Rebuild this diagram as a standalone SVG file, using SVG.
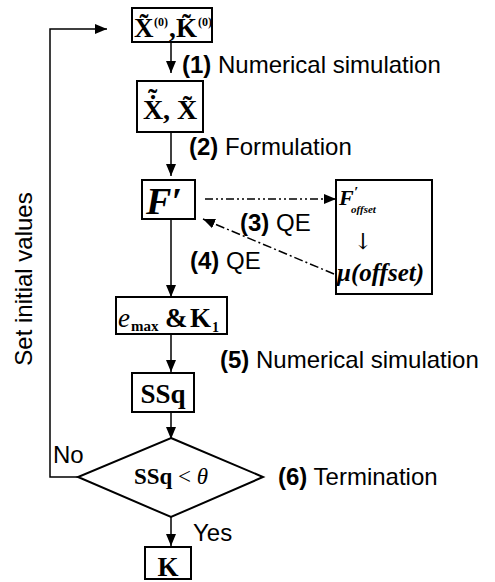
<svg xmlns="http://www.w3.org/2000/svg" width="495" height="582" viewBox="0 0 495 582">
<style>
.box{fill:#fff;stroke:#000;stroke-width:2}
.ln{fill:none;stroke:#000;stroke-width:1.5}
.dd{fill:none;stroke:#000;stroke-width:1.5;stroke-dasharray:8 3 2 3 2 3}
.dt{fill:none;stroke:#000;stroke-width:1.5;stroke-dasharray:9 3 2 3}
.lbl{font-family:"Liberation Sans",Arial,sans-serif;font-size:24px;fill:#000}
.b{font-weight:bold}
.m{font-family:"Liberation Serif","Times New Roman",serif;font-weight:bold;fill:#000}
.mi{font-family:"Liberation Serif","Times New Roman",serif;font-weight:bold;font-style:italic;fill:#000}
</style>
<defs>
<marker id="ah" viewBox="0 0 12 10" refX="12" refY="5" markerWidth="12" markerHeight="10" markerUnits="userSpaceOnUse" orient="auto">
<path d="M0,0 L12,5 L0,10 z" fill="#000"/>
</marker>
</defs>
<g id="connectors">
<line class="ln" x1="171" y1="42" x2="171" y2="73" marker-end="url(#ah)"/>
<line class="ln" x1="171" y1="132" x2="171" y2="176" marker-end="url(#ah)"/>
<line class="ln" x1="171" y1="219" x2="171" y2="297" marker-end="url(#ah)"/>
<line class="ln" x1="171" y1="334" x2="171" y2="372" marker-end="url(#ah)"/>
<line class="ln" x1="171" y1="412" x2="171" y2="439" marker-end="url(#ah)"/>
<line class="ln" x1="171" y1="517" x2="171" y2="546" marker-end="url(#ah)"/>
<polyline class="ln" points="78,477 50,477 50,29 107,29" marker-end="url(#ah)"/>
<line class="dd" x1="205" y1="199" x2="336" y2="199" marker-end="url(#ah)"/>
<line class="dt" x1="334" y1="274" x2="203" y2="219" marker-end="url(#ah)"/>
</g>
<g id="n1">
<rect class="box" x="132" y="8" width="80" height="34"/>
<text class="m" x="134" y="37" font-size="27">X&#x303;</text>
<text class="m" x="154" y="26" font-size="12">(0)</text>
<text class="m" x="169" y="37" font-size="27">,</text>
<text class="m" x="176" y="37" font-size="27">K&#x303;</text>
<text class="m" x="198" y="26" font-size="12">(0)</text>
</g>
<g id="n2">
<rect class="box" x="137" y="81" width="66" height="51"/>
<text class="m" x="143" y="119" font-size="28">X&#x307;<tspan x="148" y="108">˜</tspan><tspan x="163" y="119">,</tspan></text>
<text class="m" x="177" y="119" font-size="28">X&#x303;</text>
</g>
<g id="n3">
<rect class="box" x="142" y="180" width="53" height="39"/>
<text class="mi" x="146" y="214" font-size="38">F′</text>
</g>
<g id="n4">
<rect class="box" x="336" y="180" width="96" height="114"/>
<text class="mi" x="339" y="205" font-size="22">F<tspan x="354" y="197" font-size="15">′</tspan><tspan x="351" y="213" font-size="11">offset</tspan></text>
<text x="363" y="249" font-size="22" text-anchor="middle" font-family="DejaVu Serif, serif" fill="#000">↓</text>
<text class="mi" x="337" y="281" font-size="25">μ(offset)</text>
</g>
<g id="n5">
<rect class="box" x="116" y="297" width="111" height="37"/>
<text x="118" y="327" font-size="27" font-family="Liberation Serif, serif" font-style="italic">e</text>
<text class="m" x="131" y="331" font-size="15">max</text>
<text class="m" x="165" y="327" font-size="27">&amp;</text>
<text class="m" x="190" y="327" font-size="27">K</text>
<text class="m" x="212" y="332" font-size="14">1</text>
</g>
<g id="n6">
<rect class="box" x="132" y="373" width="62" height="39"/>
<text class="m" x="163" y="403" font-size="27" text-anchor="middle">SSq</text>
</g>
<g id="n7">
<polygon class="box" points="171,438 263,477 171,517 78,477"/>
<text x="171" y="484" font-size="23" text-anchor="middle" font-family="Liberation Serif, serif"><tspan font-weight="bold">SSq</tspan> &lt; <tspan font-style="italic">θ</tspan></text>
</g>
<g id="n8">
<rect class="box" x="145" y="547" width="46" height="32"/>
<text class="m" x="168" y="576" font-size="27" text-anchor="middle">K</text>
</g>
<g id="labels">
<text class="lbl" x="182" y="73"><tspan class="b">(1)</tspan> Numerical simulation</text>
<text class="lbl" x="189" y="155"><tspan class="b">(2)</tspan> Formulation</text>
<text class="lbl" x="240" y="231"><tspan class="b">(3)</tspan> QE</text>
<text class="lbl" x="190" y="269"><tspan class="b">(4)</tspan> QE</text>
<text class="lbl" x="220" y="368"><tspan class="b">(5)</tspan> Numerical simulation</text>
<text class="lbl" x="278" y="485"><tspan class="b">(6)</tspan> Termination</text>
<text class="lbl" x="193" y="541">Yes</text>
<text class="lbl" x="53" y="463">No</text>
<text class="lbl" transform="translate(32,279) rotate(-90)" text-anchor="middle">Set initial values</text>
</g>
</svg>
